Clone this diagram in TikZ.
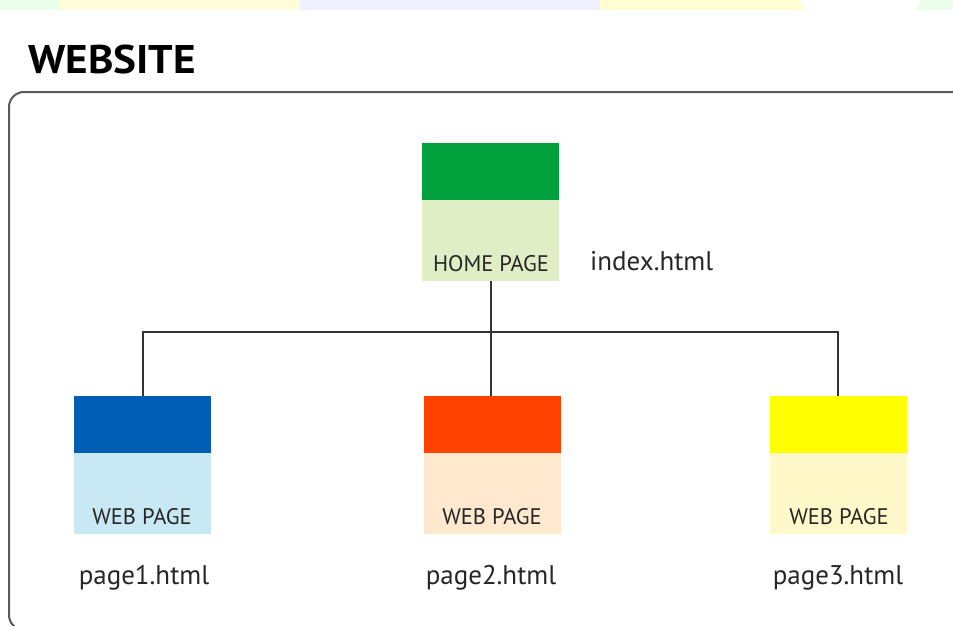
\documentclass[tikz,border=0pt]{standalone}
\usepackage{fontspec}
\setmainfont{PT Sans}
\begin{document}
\begin{tikzpicture}[x=1pt,y=-1pt,
  link/.style={draw=black!80, line width=1.8pt},
  frame/.style={draw=black!65, line width=2pt, rounded corners=15pt},
  boxlbl/.style={font=\fontsize{22.5}{22.5}\selectfont, text=black!85, anchor=base, inner sep=0pt},
  filelbl/.style={font=\fontsize{27}{27}\selectfont, text=black!85, anchor=base, inner sep=0pt},
  ]
\definecolor{hometop}{HTML}{00A13C}
\definecolor{homebot}{HTML}{E0EEC6}
\definecolor{p1top}{HTML}{005FB4}
\definecolor{p1bot}{HTML}{C8E8F4}
\definecolor{p2top}{HTML}{FF4200}
\definecolor{p2bot}{HTML}{FFE8CE}
\definecolor{p3top}{HTML}{FFFF00}
\definecolor{p3bot}{HTML}{FFF8C8}
\useasboundingbox (0,0) rectangle (953,626);
\clip (0,0) rectangle (953,626);
% faint watermark band at top
\fill[green!8] (0,0) rectangle (953,10);
\fill[yellow!15] (60,0) rectangle (300,10);
\fill[blue!6] (300,0) rectangle (600,10);
\fill[yellow!18] (600,0) rectangle (900,10);
\fill[white] (860,0) ellipse (60 and 22);
% title
\node[anchor=base west, font=\fontsize{40}{40}\selectfont\bfseries, inner sep=0pt, xscale=1.08] (title) at (28,74) {WEBSITE};
% frame
\draw[frame] (9,92) rectangle (968,630);
% home page
\fill[homebot] (422,200) rectangle (559,281);
\fill[hometop] (422,143) rectangle (559,200);
\coordinate (home) at (491,281);
\node[boxlbl] (homelbl) at (491,271) {HOME PAGE};
\node[filelbl, anchor=base west] (index) at (590,270) {index.html};
% web pages
\fill[p1bot] (74,453) rectangle (211,534);
\fill[p1top] (74,396) rectangle (211,453);
\fill[p2bot] (424,453) rectangle (561,534);
\fill[p2top] (424,396) rectangle (561,453);
\fill[p3bot] (770,453) rectangle (907,534);
\fill[p3top] (770,396) rectangle (907,453);
\coordinate (p1) at (143,396);
\coordinate (p2) at (491,396);
\coordinate (p3) at (838,396);
\coordinate (bus) at (491,332);
\node[boxlbl] (w1) at (142,524) {WEB PAGE};
\node[boxlbl] (w2) at (492,524) {WEB PAGE};
\node[boxlbl] (w3) at (839,524) {WEB PAGE};
\node[filelbl] (f1) at (144,584) {page1.html};
\node[filelbl] (f2) at (491,584) {page2.html};
\node[filelbl] (f3) at (838,584) {page3.html};
% connectors
\draw[link] (home) -- (bus);
\draw[link] (p1) |- (bus) -| (p3);
\draw[link] (bus) -- (p2);
\end{tikzpicture}
\end{document}
